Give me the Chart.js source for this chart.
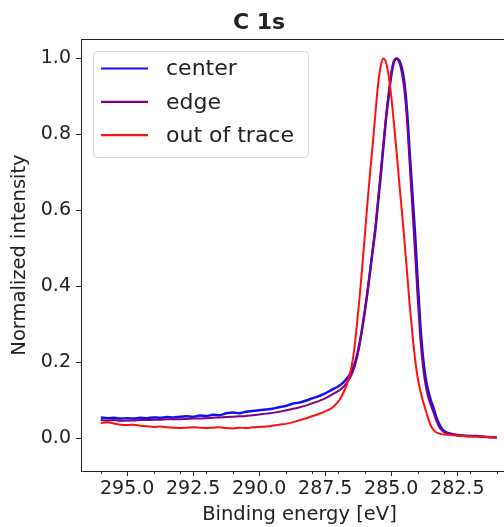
<!DOCTYPE html>
<html>
<head>
<meta charset="utf-8">
<script src="https://cdn.jsdelivr.net/npm/chart.js@4.4.1/dist/chart.umd.min.js"></script>
<style>
  html, body { margin: 0; padding: 0; background: #fff; overflow: hidden; }
  #wrap { position: relative; width: 530px; height: 527px; }
</style>
</head>
<body>
<div id="wrap"><canvas id="myChart"></canvas></div>
<script>
// binding energy (eV), shared by all three spectra
var energy = [
    296.0, 295.75, 295.5, 295.25, 295.0, 294.75, 294.5, 294.25, 294.0, 293.75,
    293.5, 293.25, 293.0, 292.75, 292.5, 292.25, 292.0, 291.75, 291.5, 291.25,
    291.0, 290.75, 290.5, 290.25, 290.0, 289.75, 289.5, 289.25, 289.0, 288.75,
    288.5, 288.25, 288.0, 287.75, 287.5, 287.25, 287.0,
    286.9, 286.8, 286.7, 286.6, 286.5, 286.4, 286.3, 286.2, 286.1, 286.0,
    285.9, 285.8, 285.7, 285.6, 285.5, 285.4, 285.3, 285.2, 285.1, 285.0,
    284.9, 284.8, 284.7, 284.6, 284.5, 284.4, 284.3, 284.2, 284.1, 284.0,
    283.9, 283.8, 283.7, 283.6, 283.5, 283.4, 283.3, 283.2, 283.1, 283.0,
    282.75, 282.5, 282.25, 282.0, 281.75, 281.5, 281.25, 281.0
];

var center = [
    0.055, 0.053, 0.054, 0.052, 0.053, 0.052, 0.054, 0.053, 0.055, 0.054,
    0.056, 0.055, 0.057, 0.058, 0.057, 0.060, 0.059, 0.062, 0.061, 0.066,
    0.068, 0.066, 0.070, 0.072, 0.074, 0.076, 0.078, 0.082, 0.085, 0.091,
    0.094, 0.099, 0.105, 0.111, 0.118, 0.128, 0.137,
    0.142, 0.148, 0.156, 0.165, 0.177, 0.193, 0.217, 0.250, 0.290, 0.335,
    0.385, 0.440, 0.495, 0.550, 0.620, 0.690, 0.765, 0.840, 0.900, 0.955,
    0.990, 1.000, 0.995, 0.975, 0.935, 0.860, 0.750, 0.645, 0.540, 0.415,
    0.300, 0.215, 0.160, 0.125, 0.100, 0.080, 0.058, 0.040, 0.027, 0.019,
    0.012, 0.009, 0.007, 0.006, 0.006, 0.004, 0.003, 0.002
];

var edge = [
    0.048, 0.047, 0.048, 0.046, 0.047, 0.047, 0.048, 0.048, 0.049, 0.049,
    0.050, 0.050, 0.050, 0.051, 0.052, 0.052, 0.053, 0.054, 0.055, 0.056,
    0.057, 0.058, 0.059, 0.061, 0.063, 0.065, 0.067, 0.070, 0.073, 0.077,
    0.081, 0.086, 0.092, 0.098, 0.105, 0.115, 0.125,
    0.130, 0.136, 0.145, 0.155, 0.168, 0.186, 0.212, 0.247, 0.288, 0.335,
    0.387, 0.443, 0.500, 0.557, 0.628, 0.700, 0.775, 0.845, 0.905, 0.962,
    0.994, 1.000, 0.990, 0.962, 0.915, 0.835, 0.720, 0.605, 0.490, 0.370,
    0.265, 0.190, 0.140, 0.108, 0.087, 0.068, 0.048, 0.032, 0.022, 0.016,
    0.011, 0.008, 0.007, 0.006, 0.005, 0.004, 0.003, 0.002
];

var outOfTrace = [
    0.040, 0.042, 0.039, 0.036, 0.035, 0.036, 0.033, 0.032, 0.030, 0.031,
    0.029, 0.028, 0.027, 0.028, 0.029, 0.028, 0.027, 0.028, 0.029, 0.027,
    0.026, 0.028, 0.027, 0.029, 0.030, 0.031, 0.033, 0.036, 0.038, 0.042,
    0.047, 0.052, 0.058, 0.064, 0.071, 0.080, 0.097,
    0.108, 0.122, 0.138, 0.160, 0.190, 0.235, 0.300, 0.370, 0.450, 0.535,
    0.620, 0.700, 0.775, 0.855, 0.930, 0.980, 1.000, 0.990, 0.955, 0.900,
    0.830, 0.755, 0.675, 0.600, 0.520, 0.435, 0.350, 0.275, 0.210, 0.160,
    0.125, 0.098, 0.075, 0.052, 0.033, 0.022, 0.016, 0.013, 0.011, 0.010,
    0.009, 0.007, 0.006, 0.005, 0.005, 0.004, 0.003, 0.002
];

var seriesNames = ['center', 'edge', 'out of trace'];
var seriesColors = ['#1010f0', '#800080', '#ff1010'];
var xTicks = [295.0, 292.5, 290.0, 287.5, 285.0, 282.5];
var xMinorTicks = [296, 295, 294, 293, 292, 291, 290, 289, 288, 287, 286, 285, 284, 283, 282, 281];
var yTicks = [0.0, 0.2, 0.4, 0.6, 0.8, 1.0];

var FONT = "'DejaVu Sans', sans-serif";
var INK = '#222';

function toPoints(values) {
    return energy.map(function(e, i) { return {x: e, y: values[i]}; });
}

// top/right spines, minor x ticks and the legend box inside the plot
var framePlugin = {
    id: 'framePlugin',
    afterDraw: function(chart) {
        var ctx = chart.ctx;
        var a = chart.chartArea;
        var xs = chart.scales.x;
        ctx.save();
        ctx.strokeStyle = INK;
        ctx.lineWidth = 1;
        ctx.beginPath();
        ctx.moveTo(a.left, Math.round(a.top) + 0.5);
        ctx.lineTo(a.right, Math.round(a.top) + 0.5);
        ctx.lineTo(a.right, a.bottom);
        xMinorTicks.forEach(function(v) {
            var px = Math.round(xs.getPixelForValue(v)) + 0.5;
            ctx.moveTo(px, a.bottom);
            ctx.lineTo(px, a.bottom + 3);
        });
        ctx.stroke();

        // legend
        var bx = a.left + 12, by = a.top + 12, bw = 215, bh = 106;
        ctx.fillStyle = 'rgba(255,255,255,0.85)';
        ctx.strokeStyle = '#d6d6d6';
        ctx.beginPath();
        ctx.roundRect(bx + 0.5, by + 0.5, bw, bh, 4);
        ctx.fill();
        ctx.stroke();
        ctx.font = '22px ' + FONT;
        ctx.textBaseline = 'middle';
        ctx.textAlign = 'left';
        chart.data.datasets.forEach(function(ds, i) {
            var ly = by + 17.5 + i * 33.3;
            ctx.strokeStyle = ds.borderColor;
            ctx.lineWidth = 2.2;
            ctx.beginPath();
            ctx.moveTo(bx + 8, ly);
            ctx.lineTo(bx + 55, ly);
            ctx.stroke();
            ctx.fillStyle = INK;
            ctx.fillText(ds.label, bx + 73, ly + 1);
        });
        ctx.restore();
    }
};

var ctx = document.getElementById('myChart').getContext('2d');
var myChart = new Chart(ctx, {
    type: 'line',
    data: {
        datasets: [
            {label: seriesNames[0], data: toPoints(center), borderColor: seriesColors[0], borderWidth: 2.5, order: 2},
            {label: seriesNames[1], data: toPoints(edge), borderColor: seriesColors[1], borderWidth: 2, order: 1},
            {label: seriesNames[2], data: toPoints(outOfTrace), borderColor: seriesColors[2], borderWidth: 2, order: 0}
        ]
    },
    options: {
        responsive: true,
        maintainAspectRatio: false,
        animation: false,
        devicePixelRatio: 1,
        elements: {
            point: {radius: 0},
            line: {cubicInterpolationMode: 'monotone', fill: false}
        },
        layout: {padding: {left: 0, right: 12, top: 0, bottom: 0}},
        plugins: {
            legend: {display: false},
            tooltip: {enabled: false},
            title: {
                display: true,
                text: 'C 1s',
                color: INK,
                font: {family: FONT, size: 22, weight: 'bold'},
                padding: {top: 10, bottom: 2.6}
            }
        },
        scales: {
            x: {
                type: 'linear',
                reverse: true,
                min: 280.2,
                max: 296.75,
                afterBuildTicks: function(scale) {
                    scale.ticks = xTicks.map(function(v) { return {value: v}; });
                },
                afterFit: function(scale) { scale.height = 56; },
                ticks: {
                    color: INK,
                    font: {family: FONT, size: 19},
                    padding: 2,
                    maxRotation: 0,
                    autoSkip: false,
                    callback: function(v) { return Number(v).toFixed(1); }
                },
                grid: {drawOnChartArea: false, drawTicks: true, tickLength: 5, tickColor: INK},
                border: {display: true, color: INK, width: 1},
                title: {
                    display: true,
                    text: 'Binding energy [eV]',
                    color: INK,
                    font: {family: FONT, size: 19.5},
                    padding: {top: 0, bottom: 0}
                }
            },
            y: {
                type: 'linear',
                min: -0.086,
                max: 1.051,
                afterBuildTicks: function(scale) {
                    scale.ticks = yTicks.map(function(v) { return {value: v}; });
                },
                afterFit: function(scale) { scale.width = 81; },
                ticks: {
                    color: INK,
                    font: {family: FONT, size: 19},
                    padding: 5,
                    callback: function(v) { return Number(v).toFixed(1); }
                },
                grid: {drawOnChartArea: false, drawTicks: true, tickLength: 5, tickColor: INK},
                border: {display: true, color: INK, width: 1},
                title: {
                    display: true,
                    text: 'Normalized intensity',
                    color: INK,
                    font: {family: FONT, size: 19.5},
                    padding: {top: 8, bottom: 0}
                }
            }
        }
    },
    plugins: [framePlugin]
});
</script>
</body>
</html>
